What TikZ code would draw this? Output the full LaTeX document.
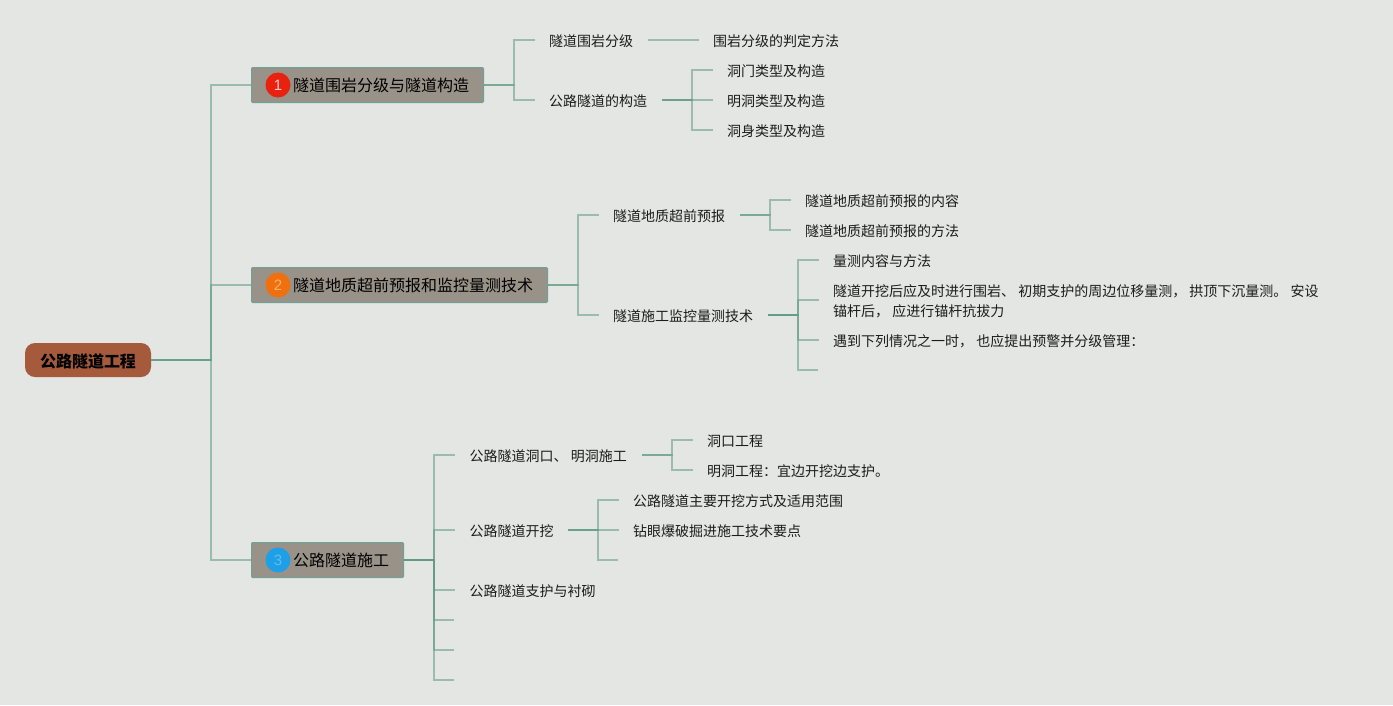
\documentclass[tikz,border=0pt]{standalone}
\usepackage{fontspec}
\setmainfont{Noto Sans CJK SC}
\setsansfont{Liberation Sans}
\usepackage{xcolor}
\usetikzlibrary{positioning, calc}
\definecolor{pagebg}{HTML}{E3E6E2}
\definecolor{rootfill}{HTML}{A65A3C}
\definecolor{topicfill}{HTML}{989288}
\definecolor{topicedge}{HTML}{6FA294}
\definecolor{linkcol}{HTML}{5F9A87}
\definecolor{inktext}{HTML}{1C1C1C}
\definecolor{badgered}{HTML}{E8220F}
\definecolor{badgeorange}{HTML}{F0700F}
\definecolor{badgeblue}{HTML}{1EA0E8}
\definecolor{digitblue}{HTML}{62BCE6}

\begin{document}
\begin{tikzpicture}[
  x=1pt, y=-1pt,
  every node/.style={text=inktext},
  rootbox/.style={draw=none, fill=rootfill, rounded corners=10pt, minimum width=126pt,
    minimum height=34pt, inner sep=0pt, text height=18pt, text depth=3pt,
    font=\fontsize{16}{20}\selectfont\bfseries, text=black},
  topic/.style={draw=topicedge, line width=1pt, fill=topicfill, rounded corners=1pt, anchor=west,
    minimum height=35pt, inner ysep=0pt, inner xsep=14.5pt, text height=16pt, text depth=3pt,
    font=\fontsize{16}{20}\selectfont, text=black},
  badge/.style={circle, minimum size=25pt, inner sep=0pt, font=\fontsize{15}{15}\sffamily},
  leaf/.style={anchor=west, inner xsep=14.5pt, inner ysep=1pt, text height=15pt, text depth=3pt,
    font=\fontsize{14}{20}\selectfont},
  longleaf/.style={anchor=west, inner xsep=14.5pt, inner ysep=1pt, align=left,
    font=\fontsize{14}{20}\selectfont},
  link/.style={draw=linkcol, draw opacity=0.55, line width=1.3pt},
]
  \fill[pagebg] (0, 0) rectangle (1393, 705);

  \node[rootbox] (root) at (88, 360) {公路隧道工程};

  \node[topic] (topicA) at (251, 85) {\hspace*{27pt}隧道围岩分级与隧道构造};
  \node[topic] (topicB) at (251, 285) {\hspace*{27pt}隧道地质超前预报和监控量测技术};
  \node[topic] (topicC) at (251, 560) {\hspace*{27pt}公路隧道施工};

  \node[badge, fill=badgered, text=red!20!white] (badgeA) at (278, 85) {1};
  \node[badge, fill=badgeorange, text=orange!60!white] (badgeB) at (278, 285) {2};
  \node[badge, fill=badgeblue, text=digitblue] (badgeC) at (278, 560) {3};

  \node[leaf] (gradeHead) at (534.5, 40) {隧道围岩分级};
  \node[leaf] (gradeWay) at (698.5, 40) {围岩分级的判定方法};
  \node[leaf] (buildHead) at (534.5, 100) {公路隧道的构造};
  \node[leaf] (buildA) at (712.5, 70) {洞门类型及构造};
  \node[leaf] (buildB) at (712.5, 100) {明洞类型及构造};
  \node[leaf] (buildC) at (712.5, 130) {洞身类型及构造};

  \node[leaf] (geoHead) at (598.5, 215) {隧道地质超前预报};
  \node[leaf] (geoA) at (790.5, 200) {隧道地质超前预报的内容};
  \node[leaf] (geoB) at (790.5, 230) {隧道地质超前预报的方法};
  \node[leaf] (monHead) at (598.5, 315) {隧道施工监控量测技术};
  \node[leaf] (monA) at (818.5, 260) {量测内容与方法};
  \node[longleaf] (monB) at (818.5, 300) {\rule{0pt}{14pt}隧道开挖后应及时进行围岩、 初期支护的周边位移量测， 拱顶下沉量测。 安设\\锚杆后， 应进行锚杆抗拔力};
  \node[leaf] (monC) at (818.5, 340) {遇到下列情况之一时， 也应提出预警并分级管理：};
  \coordinate (monD) at (818, 370);

  \node[leaf] (portHead) at (455, 455) {公路隧道洞口、 明洞施工};
  \node[leaf] (portA) at (692.5, 440) {洞口工程};
  \node[leaf] (portB) at (692.5, 470) {明洞工程：宜边开挖边支护。};
  \node[leaf] (digHead) at (455, 530) {公路隧道开挖};
  \node[leaf] (digA) at (618.5, 500) {公路隧道主要开挖方式及适用范围};
  \node[leaf] (digB) at (618.5, 530) {钻眼爆破掘进施工技术要点};
  \coordinate (digC) at (618, 560);
  \node[leaf] (lining) at (455, 590) {公路隧道支护与衬砌};
  \coordinate (endA) at (454, 620);
  \coordinate (endB) at (454, 650);
  \coordinate (endC) at (454, 680);

  \coordinate (busRoot) at (211, 360);
  \coordinate (busA) at (514, 85);
  \coordinate (busB) at (578, 285);
  \coordinate (busC) at (434, 560);
  \coordinate (busBuild) at (692, 100);
  \coordinate (busGeo) at (770, 215);
  \coordinate (busMon) at (798, 315);
  \coordinate (busPort) at (672, 455);
  \coordinate (busDig) at (598, 530);

  \foreach \kid in {topicA, topicB, topicC} {
    \draw[link] (root.east) -- (busRoot) |- (\kid.west);
  }
  \foreach \kid in {gradeHead, buildHead} {
    \draw[link] (topicA.east) -- (busA) |- (\kid.west);
  }
  \foreach \kid in {geoHead, monHead} {
    \draw[link] (topicB.east) -- (busB) |- (\kid.west);
  }
  \foreach \kid in {portHead, digHead, lining, endA, endB, endC} {
    \draw[link] (topicC.east) -- (busC) |- (\kid);
  }
  \draw[link] (gradeHead.east) -- (gradeWay.west);
  \foreach \kid in {buildA, buildB, buildC} {
    \draw[link] (buildHead.east) -- (busBuild) |- (\kid.west);
  }
  \foreach \kid in {geoA, geoB} {
    \draw[link] (geoHead.east) -- (busGeo) |- (\kid.west);
  }
  \foreach \kid in {monA, monB, monC, monD} {
    \draw[link] (monHead.east) -- (busMon) |- (\kid);
  }
  \foreach \kid in {portA, portB} {
    \draw[link] (portHead.east) -- (busPort) |- (\kid.west);
  }
  \foreach \kid in {digA, digB, digC} {
    \draw[link] (digHead.east) -- (busDig) |- (\kid);
  }
\end{tikzpicture}
\end{document}
